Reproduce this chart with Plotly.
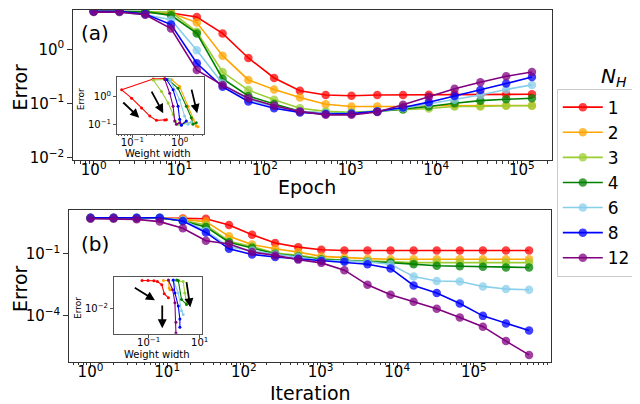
import plotly.graph_objects as go

# ---------------- data ----------------
epochs = [1, 2, 4, 8, 16, 32, 64, 128, 256, 512, 1024, 2048, 4096, 8192,
          16384, 32768, 65536, 131072]
iterations = [1, 2, 4, 8, 16, 32, 64, 128, 256, 512, 1024, 2048, 4096, 8192,
              16384, 32768, 65536, 131072, 262144, 524288]
nh_labels = ["1", "2", "3", "4", "6", "8", "12"]

# panel (a): error vs epoch
err_a_1 = [5.06, 5.06, 4.90, 4.71, 3.98, 1.98, 0.695, 0.297, 0.172, 0.144, 0.139, 0.144,
           0.144, 0.146, 0.148, 0.148, 0.148, 0.148]
err_a_2 = [5.06, 5.06, 4.90, 4.71, 3.14, 0.768, 0.273, 0.182, 0.129, 0.097, 0.088, 0.088,
           0.088, 0.091, 0.091, 0.091, 0.092, 0.092]
err_a_3 = [5.06, 5.06, 5.01, 4.90, 2.12, 0.382, 0.177, 0.117, 0.082, 0.0716, 0.0686, 0.0716,
           0.0768, 0.081, 0.088, 0.088, 0.091, 0.091]
err_a_4 = [5.06, 5.06, 5.01, 4.27, 1.98, 0.288, 0.138, 0.098, 0.0716, 0.066, 0.0667, 0.0716,
           0.0787, 0.088, 0.101, 0.113, 0.120, 0.125]
err_a_6 = [5.06, 4.90, 4.39, 3.55, 0.97, 0.234, 0.117, 0.088, 0.0716, 0.066, 0.066, 0.0716,
           0.082, 0.099, 0.117, 0.144, 0.182, 0.221]
err_a_8 = [5.06, 5.06, 4.52, 2.88, 0.556, 0.204, 0.109, 0.082, 0.0686, 0.064, 0.065, 0.0716,
           0.0846, 0.106, 0.138, 0.177, 0.234, 0.310]
err_a_12 = [4.90, 4.90, 4.39, 2.44, 0.415, 0.219, 0.125, 0.091, 0.0716, 0.0617, 0.0617, 0.0695,
            0.0946, 0.134, 0.187, 0.248, 0.319, 0.382]

# panel (b): error vs iteration
err_b_1 = [5.60, 5.60, 5.18, 5.18, 5.18, 5.01, 2.48, 0.83, 0.334, 0.209, 0.155, 0.144,
           0.144, 0.144, 0.144, 0.144, 0.144, 0.144, 0.144, 0.144]
err_b_2 = [5.36, 5.36, 5.36, 5.36, 4.65, 3.61, 0.697, 0.277, 0.173, 0.120, 0.0743, 0.0646,
           0.0578, 0.0537, 0.0537, 0.0537, 0.0537, 0.0537, 0.0537, 0.0537]
err_b_3 = [5.36, 5.36, 5.36, 5.36, 4.16, 2.48, 0.403, 0.223, 0.108, 0.083, 0.0578, 0.048,
           0.0449, 0.0403, 0.0372, 0.0372, 0.0372, 0.0372, 0.0372, 0.0372]
err_b_4 = [5.36, 5.36, 5.36, 5.36, 3.85, 2.00, 0.361, 0.193, 0.100, 0.0743, 0.0518, 0.048,
           0.0403, 0.0372, 0.0309, 0.0259, 0.0248, 0.0233, 0.0215, 0.0215]
err_b_6 = [5.60, 5.60, 5.60, 5.60, 4.16, 1.29, 0.215, 0.1435, 0.0927, 0.0697, 0.048, 0.0449,
           0.0403, 0.0309, 0.00776, 0.00479, 0.00447, 0.0026, 0.00193, 0.00179]
err_b_8 = [5.60, 5.60, 5.60, 5.60, 3.85, 1.08, 0.173, 0.0927, 0.0697, 0.0578, 0.0449, 0.0403,
           0.0309, 0.0193, 0.0029, 0.00124, 0.000385, 9.68e-5, 4.16e-5, 1.87e-5]
err_b_12 = [5.01, 5.01, 4.65, 3.61, 1.73, 0.43, 0.299, 0.120, 0.083, 0.0518, 0.036, 0.016,
            0.00309, 0.00103, 0.000465, 0.000215, 8.04e-5, 2.9e-5, 5.78e-6, 1.24e-6]

# inset (a): error vs weight width
wa_1 = [0.484, 0.276, 0.0596, 0.0966, 0.157, 0.234, 0.324, 0.484, 0.525]
ea_1 = [4.43, 4.22, 1.73, 0.87, 0.386, 0.196, 0.138, 0.142, 0.145]
wa_2 = [0.67, 1.0, 1.5, 1.91, 2.24, 2.44]
ea_2 = [4.08, 2.26, 0.443, 0.15, 0.087, 0.082]
wa_3 = [0.526, 0.276, 0.413, 0.571, 0.726, 0.812, 0.925, 1.256, 1.85]
ea_3 = [4.08, 3.89, 1.5, 0.58, 0.226, 0.131, 0.10, 0.111, 0.114]
wa_4 = [0.571, 0.925, 1.38, 1.76, 1.91, 2.24]
ea_4 = [4.08, 1.96, 0.443, 0.171, 0.10, 0.114]
wa_6 = [0.617, 1.0, 1.27, 1.5, 1.76]
ea_6 = [4.08, 0.764, 0.196, 0.10, 0.12]
wa_8 = [0.526, 0.726, 0.925, 1.0, 1.086, 1.38]
ea_8 = [4.08, 1.73, 0.443, 0.15, 0.092, 0.131]
wa_12 = [0.484, 0.617, 0.726, 0.785, 0.853, 1.0]
ea_12 = [4.08, 1.31, 0.443, 0.131, 0.10, 0.114]

# inset (b): error vs weight width
wb_1 = [0.055, 0.094, 0.16, 0.22, 0.328, 0.41, 0.596]
eb_1 = [5.75, 5.75, 5.4, 4.6, 2.17, 0.295, 0.114]
wb_2 = [0.381, 0.596, 0.64, 0.687]
eb_2 = [5.75, 5.75, 1.04, 0.718]
wb_3 = [0.875, 2.27, 2.62, 3.05, 3.55]
eb_3 = [5.75, 4.6, 0.345, 0.0378, 0.06]
wb_4 = [1.25, 1.455, 1.95, 3.05]
eb_4 = [6.56, 5.75, 0.078, 0.026]
wb_6 = [0.931, 1.455, 1.95, 2.27]
eb_6 = [5.75, 0.345, 0.006, 0.00265]
wb_8 = [0.931, 1.074, 1.455, 1.68, 1.68]
eb_8 = [6.56, 0.345, 0.018, 0.00093, 0.000148]
wb_12 = [0.596, 0.875, 1.074, 1.175, 1.175]
eb_12 = [6.56, 0.718, 0.0378, 0.00045, 0.00004]

# ---------------- style ----------------
colors = ["red", "orange", "yellowgreen", "green", "skyblue", "blue", "purple"]
FONT = "DejaVu Sans"
W, H = 640, 404

series_a = [err_a_1, err_a_2, err_a_3, err_a_4, err_a_6, err_a_8, err_a_12]
series_b = [err_b_1, err_b_2, err_b_3, err_b_4, err_b_6, err_b_8, err_b_12]
inset_a = [(wa_1, ea_1), (wa_2, ea_2), (wa_3, ea_3), (wa_4, ea_4), (wa_6, ea_6), (wa_8, ea_8), (wa_12, ea_12)]
inset_b = [(wb_1, eb_1), (wb_2, eb_2), (wb_3, eb_3), (wb_4, eb_4), (wb_6, eb_6), (wb_8, eb_8), (wb_12, eb_12)]

fig = go.Figure()

for lab, col, ys in zip(nh_labels, colors, series_a):
    fig.add_trace(go.Scatter(x=epochs, y=ys, mode="lines+markers", name=lab,
                             line=dict(color=col, width=1.6),
                             marker=dict(color=col, size=8.5, opacity=0.75),
                             xaxis="x", yaxis="y", showlegend=True))
for lab, col, ys in zip(nh_labels, colors, series_b):
    fig.add_trace(go.Scatter(x=iterations, y=ys, mode="lines+markers", name=lab,
                             line=dict(color=col, width=1.6),
                             marker=dict(color=col, size=8.5, opacity=0.75),
                             xaxis="x2", yaxis="y2", showlegend=False))
for lab, col, (ws, es) in zip(nh_labels, colors, inset_a):
    fig.add_trace(go.Scatter(x=ws, y=es, mode="lines+markers", name=lab,
                             line=dict(color=col, width=1.1),
                             marker=dict(color=col, size=3),
                             xaxis="x3", yaxis="y3", showlegend=False))
for lab, col, (ws, es) in zip(nh_labels, colors, inset_b):
    fig.add_trace(go.Scatter(x=ws, y=es, mode="lines+markers", name=lab,
                             line=dict(color=col, width=1.1),
                             marker=dict(color=col, size=3),
                             xaxis="x4", yaxis="y4", showlegend=False))


def sup(e):
    s = str(e).replace("-", "\u2212")
    return "10<sup>" + s + "</sup>"


def px_dom(a, b, total):
    return [a / total, b / total]


def py_dom(top, bottom):
    return [1 - bottom / H, 1 - top / H]


def minor_vals(lo, hi):
    return [m * 10.0 ** n for n in range(lo, hi) for m in range(2, 10)]


main_ax = dict(type="log", showgrid=False, zeroline=False, showline=True, mirror=True,
               linecolor="#333333", linewidth=1.3, ticks="outside", ticklen=5,
               tickcolor="#333333", tickwidth=1.1,
               tickfont=dict(family=FONT, size=15, color="black"))
inset_ax = dict(type="log", showgrid=False, zeroline=False, showline=True, mirror=True,
                linecolor="#555555", linewidth=1, ticks="outside", ticklen=3,
                tickcolor="#555555", tickwidth=0.8,
                tickfont=dict(family=FONT, size=10, color="black"))

xa = dict(main_ax, domain=px_dom(66, 549, W), range=[-0.237, 5.35], anchor="y",
          tickvals=[1, 10, 100, 1e3, 1e4, 1e5], ticktext=[sup(i) for i in range(6)],
          ticklabelstandoff=-9,
          minor=dict(tickvals=minor_vals(-1, 6), ticks="outside", ticklen=2.5,
                     tickcolor="#333333"))
ya = dict(main_ax, domain=py_dom(2, 155), range=[-2.05, 0.73], anchor="x",
          tickvals=[0.01, 0.1, 1], ticktext=[sup(-2), sup(-1), sup(0)])
xb = dict(main_ax, domain=px_dom(62, 548, W), range=[-0.275, 6.004], anchor="y2",
          tickvals=[1, 10, 100, 1e3, 1e4, 1e5], ticktext=[sup(i) for i in range(6)],
          ticklabelstandoff=-9,
          minor=dict(tickvals=minor_vals(-1, 7), ticks="outside", ticklen=2.5,
                     tickcolor="#333333"))
yb = dict(main_ax, domain=py_dom(206, 360), range=[-6.24, 1.1], anchor="x2",
          tickvals=[1e-4, 0.1], ticktext=[sup(-4), sup(-1)])
xi_a = dict(inset_ax, domain=px_dom(110, 198, W), range=[-1.324, 0.517], anchor="y3",
            tickvals=[0.1, 1], ticktext=[sup(-1), sup(0)], ticklabelstandoff=-4,
            minor=dict(tickvals=minor_vals(-2, 1), ticks="outside", ticklen=1.6,
                       tickcolor="#555555"))
yi_a = dict(inset_ax, domain=py_dom(70, 128), range=[-1.343, 0.707], anchor="x3",
            tickvals=[0.1, 1], ticktext=[sup(-1), sup(0)])
xi_b = dict(inset_ax, domain=px_dom(107, 196, W), range=[-2.36, 1.10], anchor="y4",
            tickvals=[0.1, 10], ticktext=[sup(-1), sup(1)], ticklabelstandoff=-4)
yi_b = dict(inset_ax, domain=py_dom(274, 331.5), range=[-4.47, 1.08], anchor="x4",
            tickvals=[0.01], ticktext=[sup(-2)])


def text_ann(txt, x, y, size, angle=0):
    return dict(text=txt, x=x / W, y=1 - y / H, xref="paper", yref="paper",
                showarrow=False, textangle=angle, xanchor="center", yanchor="middle",
                font=dict(family=FONT, size=size, color="black"))


def arrow(tail, head):
    return dict(text="", x=head[0] / W, y=1 - head[1] / H, xref="paper", yref="paper",
                ax=tail[0] - head[0], ay=tail[1] - head[1], axref="pixel", ayref="pixel",
                showarrow=True, arrowhead=2, arrowsize=1.0, arrowwidth=1.8,
                arrowcolor="black")


annotations = [
    text_ann("Error", 12, 80, 19, -90),
    text_ann("Epoch", 302, 182, 19),
    text_ann("Error", 12, 285, 19, -90),
    text_ann("Iteration", 305, 392, 19),
    text_ann("(a)", 88, 25, 20),
    text_ann("(b)", 88, 240, 20),
    text_ann("Error", 74.5, 93, 9, -90),
    text_ann("Weight width", 151.5, 148, 10),
    text_ann("Error", 70, 305, 9, -90),
    text_ann("Weight width", 150, 353, 10),
    text_ann("<i>N</i><sub><i>H</i></sub>", 612, 70, 20),
    arrow((115, 95), (132.5, 111.7)),
    arrow((144.3, 84), (156.7, 107)),
    arrow((185, 82), (191, 107)),
    arrow((126.7, 284), (148.3, 297.5)),
    arrow((155.7, 301.7), (155.7, 326)),
    arrow((180, 278), (184, 304.5)),
]

fig.update_layout(
    width=W, height=H, margin=dict(l=0, r=0, t=0, b=0),
    paper_bgcolor="white", plot_bgcolor="white",
    font=dict(family=FONT, color="black"),
    xaxis=xa, yaxis=ya, xaxis2=xb, yaxis2=yb,
    xaxis3=xi_a, yaxis3=yi_a, xaxis4=xi_b, yaxis4=yi_b,
    showlegend=True,
    legend=dict(x=554 / W, y=1 - 82 / H, xanchor="left", yanchor="top",
                bgcolor="white", bordercolor="#cccccc", borderwidth=1,
                font=dict(family=FONT, size=17, color="black"), itemwidth=40),
    annotations=annotations,
)

fig.write_html("out.html")
